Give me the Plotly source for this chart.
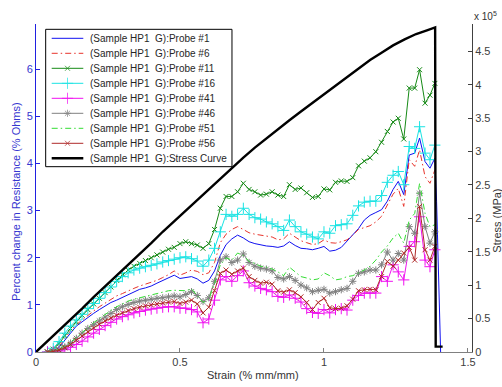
import plotly.graph_objects as go

# ---------------- data ----------------
strain = [0.04, 0.06, 0.08, 0.10, 0.12, 0.14, 0.16, 0.18, 0.20, 0.22,
          0.24, 0.26, 0.28, 0.30, 0.32, 0.34, 0.36, 0.38, 0.40, 0.42,
          0.44, 0.46, 0.48, 0.50, 0.52, 0.54, 0.56, 0.58, 0.60, 0.62,
          0.64, 0.66, 0.68, 0.70, 0.72, 0.74, 0.76, 0.78, 0.80, 0.82,
          0.84, 0.86, 0.88, 0.90, 0.92, 0.94, 0.96, 0.98, 1.00, 1.02,
          1.04, 1.06, 1.08, 1.10, 1.12, 1.14, 1.16, 1.18, 1.20, 1.22,
          1.24, 1.258, 1.277, 1.296, 1.315, 1.332, 1.351, 1.368, 1.385]

probe1 = [0.00, 0.03, 0.10, 0.25, 0.42, 0.55, 0.64, 0.74, 0.82, 0.90,
          0.98, 1.05, 1.10, 1.16, 1.22, 1.28, 1.33, 1.36, 1.40, 1.46,
          1.52, 1.58, 1.63, 1.56, 1.58, 1.60, 1.55, 1.46, 1.52, 1.72,
          2.05, 2.28, 2.40, 2.48, 2.42, 2.34, 2.30, 2.27, 2.25, 2.24,
          2.22, 2.25, 2.34, 2.26, 2.20, 2.19, 2.17, 2.20, 2.24, 2.14,
          2.16, 2.22, 2.35, 2.47, 2.62, 2.80, 2.90, 2.96, 3.02, 3.20,
          3.45, 3.62, 3.34, 4.18, 4.22, 4.54, 4.04, 3.90, 4.11]
probe1_tail_strain = [1.391, 1.405]
probe1_tail = [3.20, 0.00]

probe6 = [0.00, 0.04, 0.12, 0.28, 0.45, 0.58, 0.68, 0.78, 0.87, 0.96,
          1.04, 1.12, 1.19, 1.24, 1.30, 1.35, 1.40, 1.44, 1.47, 1.52,
          1.58, 1.64, 1.72, 1.63, 1.68, 1.74, 1.71, 1.64, 1.68, 1.90,
          2.32, 2.50, 2.60, 2.66, 2.60, 2.53, 2.50, 2.48, 2.47, 2.44,
          2.38, 2.40, 2.52, 2.44, 2.36, 2.32, 2.28, 2.30, 2.38, 2.32,
          2.31, 2.34, 2.38, 2.48, 2.60, 2.64, 2.68, 2.76, 2.88, 3.12,
          3.35, 3.47, 3.09, 4.08, 3.94, 4.29, 3.72, 3.58, 3.86]

probe11 = [0.00, 0.06, 0.18, 0.35, 0.50, 0.64, 0.78, 0.90, 1.02, 1.14,
           1.26, 1.38, 1.52, 1.64, 1.74, 1.82, 1.88, 1.94, 2.00, 2.06,
           2.12, 2.18, 2.22, 2.30, 2.34, 2.30, 2.27, 2.20, 2.30, 2.60,
           3.05, 3.30, 3.30, 3.40, 3.58, 3.45, 3.40, 3.33, 3.35, 3.40,
           3.33, 3.30, 3.55, 3.45, 3.48, 3.38, 3.28, 3.30, 3.46, 3.44,
           3.60, 3.63, 3.62, 3.70, 3.95, 4.05, 4.12, 4.25, 4.45, 4.68,
           4.88, 4.96, 4.52, 5.60, 5.60, 5.99, 5.28, 5.45, 5.70]

probe16 = [0.00, 0.08, 0.22, 0.40, 0.55, 0.68, 0.80, 0.92, 1.03, 1.14,
           1.26, 1.38, 1.50, 1.60, 1.68, 1.74, 1.78, 1.81, 1.84, 1.87,
           1.91, 1.94, 1.97, 2.00, 2.02, 1.98, 1.93, 1.82, 1.95, 2.20,
           2.55, 2.92, 2.88, 2.92, 3.05, 2.92, 2.85, 2.82, 2.76, 2.72,
           2.66, 2.58, 2.80, 2.66, 2.55, 2.50, 2.44, 2.40, 2.55, 2.52,
           2.68, 2.70, 2.72, 2.90, 3.10, 3.18, 3.20, 3.20, 3.32, 3.60,
           3.75, 3.83, 3.55, 4.36, 4.32, 4.78, 4.22, 4.08, 4.39]

probe41 = [0.00, 0.00, 0.02, 0.05, 0.10, 0.16, 0.23, 0.32, 0.40, 0.48,
           0.56, 0.63, 0.70, 0.75, 0.79, 0.83, 0.86, 0.89, 0.91, 0.93,
           0.95, 0.96, 0.96, 0.93, 0.93, 0.90, 0.85, 0.62, 0.70, 1.10,
           1.53, 1.60, 1.50, 1.62, 1.72, 1.47, 1.40, 1.35, 1.32, 1.28,
           1.18, 1.16, 1.21, 1.14, 1.06, 0.92, 0.84, 0.82, 0.90, 0.83,
           0.90, 0.92, 0.89, 1.10, 1.20, 1.25, 1.25, 1.25, 1.60, 1.50,
           1.85, 1.70, 1.53, 2.24, 2.34, 2.87, 1.95, 1.81, 2.17]

probe46 = [0.00, 0.02, 0.05, 0.11, 0.19, 0.29, 0.40, 0.50, 0.58, 0.66,
           0.74, 0.82, 0.90, 0.96, 1.01, 1.05, 1.08, 1.10, 1.12, 1.14,
           1.15, 1.17, 1.19, 1.17, 1.22, 1.28, 1.20, 1.07, 1.15, 1.50,
           1.95, 2.02, 1.90, 1.95, 2.08, 1.90, 1.82, 1.78, 1.76, 1.72,
           1.58, 1.55, 1.60, 1.52, 1.42, 1.36, 1.28, 1.31, 1.33, 1.25,
           1.28, 1.32, 1.35, 1.50, 1.67, 1.70, 1.74, 1.74, 1.85, 2.12,
           1.95, 2.09, 1.95, 2.66, 2.52, 3.37, 2.66, 2.31, 2.55]

probe51 = [0.00, 0.02, 0.06, 0.13, 0.21, 0.31, 0.42, 0.53, 0.62, 0.71,
           0.80, 0.88, 0.96, 1.02, 1.08, 1.12, 1.15, 1.18, 1.21, 1.24,
           1.27, 1.30, 1.31, 1.30, 1.30, 1.34, 1.20, 1.05, 1.12, 1.45,
           1.85, 2.00, 1.95, 2.10, 2.05, 1.92, 1.88, 1.82, 1.80, 1.76,
           1.70, 1.62, 1.80, 1.70, 1.60, 1.57, 1.53, 1.55, 1.68, 1.62,
           1.53, 1.55, 1.60, 1.62, 1.68, 1.74, 1.82, 1.95, 2.12, 2.25,
           2.42, 2.52, 2.31, 2.80, 2.94, 3.58, 2.94, 2.66, 2.70]

probe56 = [0.00, 0.01, 0.04, 0.09, 0.16, 0.25, 0.34, 0.43, 0.51, 0.59,
           0.66, 0.72, 0.78, 0.83, 0.88, 0.92, 0.95, 0.98, 1.00, 1.02,
           1.04, 1.06, 1.07, 1.03, 1.06, 1.10, 1.02, 0.83, 0.95, 1.30,
           1.67, 1.74, 1.65, 1.72, 1.78, 1.60, 1.52, 1.46, 1.48, 1.44,
           1.30, 1.27, 1.32, 1.26, 1.17, 1.05, 0.90, 1.05, 1.14, 0.94,
           0.92, 0.93, 0.98, 1.12, 1.30, 1.32, 1.33, 1.32, 1.60, 1.92,
           1.82, 1.95, 2.10, 2.22, 1.95, 3.09, 2.17, 1.95, 2.24]

stress_strain = [0.00, 0.04, 0.08, 0.12, 0.16, 0.20, 0.24, 0.28, 0.32, 0.36,
                 0.40, 0.44, 0.48, 0.52, 0.56, 0.60, 0.64, 0.68, 0.72, 0.76,
                 0.80, 0.84, 0.88, 0.92, 0.96, 1.00, 1.04, 1.08, 1.12, 1.16,
                 1.20, 1.24, 1.28, 1.32, 1.36, 1.38, 1.386, 1.388, 1.412]
stress_e5 = [0.00, 0.16, 0.33, 0.49, 0.65, 0.82, 0.98, 1.14, 1.31, 1.47,
             1.63, 1.80, 1.96, 2.12, 2.28, 2.44, 2.60, 2.76, 2.91, 3.06,
             3.20, 3.34, 3.47, 3.60, 3.73, 3.86, 3.99, 4.11, 4.24, 4.37,
             4.48, 4.59, 4.68, 4.76, 4.82, 4.85, 4.86, 0.08, 0.08]

x_tickvals = [0, 0.5, 1, 1.5]
x_ticktext = ["0", "0.5", "1", "1.5"]
y_tickvals = [0, 1, 2, 3, 4, 5, 6]
y2_tickvals_e5 = [0, 0.5, 1, 1.5, 2, 2.5, 3, 3.5, 4, 4.5]
y2_ticktext = ["0", "0.5", "1", "1.5", "2", "2.5", "3", "3.5", "4", "4.5"]

names = ["(Sample HP1\u00a0 G):Probe #1", "(Sample HP1\u00a0 G):Probe #6",
         "(Sample HP1\u00a0 G):Probe #11", "(Sample HP1\u00a0 G):Probe #16",
         "(Sample HP1\u00a0 G):Probe #41", "(Sample HP1\u00a0 G):Probe #46",
         "(Sample HP1\u00a0 G):Probe #51", "(Sample HP1\u00a0 G):Probe #56",
         "(Sample HP1\u00a0 G):Stress Curve"]

# ---------------- styles ----------------
FONT = "Liberation Sans, Arial, sans-serif"
DASHDOT = "6px,3px,1.5px,3px"
styles = [
    dict(color="#1010f0", dash="solid", width=1, symbol=None, msize=0),
    dict(color="#e8342c", dash=DASHDOT, width=1, symbol=None, msize=0),
    dict(color="#168a16", dash="solid", width=1, symbol="x-thin", msize=5),
    dict(color="#19e3e3", dash="solid", width=1, symbol="cross-thin", msize=8),
    dict(color="#f010f0", dash="solid", width=1, symbol="cross-thin", msize=8),
    dict(color="#808080", dash="solid", width=1, symbol="asterisk", msize=6),
    dict(color="#33dd33", dash=DASHDOT, width=1, symbol=None, msize=0),
    dict(color="#b02a2a", dash="solid", width=1, symbol="x-thin", msize=5),
    dict(color="#000000", dash="solid", width=2.4, symbol=None, msize=0),
]

series_x = [strain + probe1_tail_strain, strain, strain, strain, strain,
            strain, strain, strain]
series_y = [probe1 + probe1_tail, probe6, probe11, probe16, probe41,
            probe46, probe51, probe56]

fig = go.Figure()

for i in range(8):
    st = styles[i]
    kw = dict(mode="lines")
    if st["symbol"]:
        kw = dict(mode="lines+markers",
                  marker=dict(symbol=st["symbol"], size=st["msize"],
                              color=st["color"],
                              line=dict(width=1, color=st["color"])))
    fig.add_trace(go.Scatter(x=series_x[i], y=series_y[i], name=names[i],
                             line=dict(color=st["color"], width=st["width"],
                                       dash=st["dash"]),
                             showlegend=False, hoverinfo="skip", **kw))

fig.add_trace(go.Scatter(x=stress_strain, y=[s * 1e5 for s in stress_e5],
                         name=names[8], mode="lines", yaxis="y2",
                         line=dict(color="#000000", width=2.4),
                         showlegend=False, hoverinfo="skip"))

# ---------------- hand-made legend box (MATLAB style, compact rows) ----------------
LX0, LX1, LY_TOP, LY_BOT = 0.0222, 0.4495, 0.9838, 0.565
ROW0, ROW_STEP = 0.9564, 0.04573
SAMPLE_X0, SAMPLE_X1, TEXT_X = 0.036, 0.1085, 0.1186

shapes = [dict(type="rect", xref="paper", yref="paper", x0=LX0, x1=LX1,
               y0=LY_BOT, y1=LY_TOP, line=dict(color="#000000", width=1),
               fillcolor="white", layer="below")]
annotations = []
for i, st in enumerate(styles):
    ry = ROW0 - i * ROW_STEP
    mid = (SAMPLE_X0 + SAMPLE_X1) / 2
    sizes = [0, st["msize"], 0]
    fig.add_trace(go.Scatter(
        x=[SAMPLE_X0, mid, SAMPLE_X1], y=[ry, ry, ry],
        xaxis="x3", yaxis="y3", showlegend=False, hoverinfo="skip",
        mode="lines+markers" if st["symbol"] else "lines",
        line=dict(color=st["color"], width=st["width"], dash=st["dash"]),
        marker=dict(symbol=st["symbol"] or "circle", size=sizes,
                    color=st["color"], line=dict(width=1, color=st["color"]))))
    annotations.append(dict(x=TEXT_X, y=ry, xref="paper", yref="paper",
                            text=names[i], showarrow=False, xanchor="left",
                            yanchor="middle",
                            font=dict(family=FONT, size=10, color="#262626")))

# axis titles & exponent label
annotations += [
    dict(x=-0.046, y=0.46, xref="paper", yref="paper", textangle=-90,
         xanchor="center", yanchor="middle",
         text="Percent change in Resistance (% Ohms)", showarrow=False,
         font=dict(family=FONT, size=11, color="#3535d0")),
    dict(x=1.057, y=0.40, xref="paper", yref="paper", textangle=-90,
         xanchor="center", yanchor="middle",
         text="Stress (MPa)", showarrow=False,
         font=dict(family=FONT, size=11, color="#333333")),
    dict(x=0.4966, y=-0.070, xref="paper", yref="paper",
         xanchor="center", yanchor="middle",
         text="Strain (% mm/mm)", showarrow=False,
         font=dict(family=FONT, size=11, color="#333333")),
    dict(x=1.0, y=1.024, xref="paper", yref="paper", xanchor="left",
         yanchor="middle",
         text="x 10<sup>5</sup>", showarrow=False,
         font=dict(family=FONT, size=10, color="#333333")),
]

fig.update_layout(
    width=502, height=387,
    margin=dict(l=36, r=30, t=24, b=35),
    paper_bgcolor="white", plot_bgcolor="white",
    font=dict(family=FONT, size=11, color="#333333"),
    showlegend=False,
    xaxis=dict(range=[0, 1.514], tickvals=x_tickvals, ticktext=x_ticktext,
               ticks="inside", ticklen=4, tickcolor="#808080",
               showline=True, linecolor="#808080", linewidth=1,
               showgrid=False, zeroline=False,
               tickfont=dict(family=FONT, size=11, color="#404040")),
    yaxis=dict(range=[0, 6.96], tickvals=y_tickvals,
               ticks="inside", ticklen=4, tickcolor="#2020e0",
               showline=True, linecolor="#2020e0", linewidth=1,
               showgrid=False, zeroline=False,
               tickfont=dict(family=FONT, size=11, color="#3535d0")),
    yaxis2=dict(range=[0, 4.91e5], overlaying="y", side="right",
                tickvals=[v * 1e5 for v in y2_tickvals_e5],
                ticktext=y2_ticktext,
                ticks="inside", ticklen=4, tickcolor="#404040",
                showline=True, linecolor="#404040", linewidth=1,
                showgrid=False, zeroline=False,
                tickfont=dict(family=FONT, size=11, color="#404040")),
    xaxis3=dict(overlaying="x", range=[0, 1], visible=False, anchor="y3"),
    yaxis3=dict(overlaying="y", range=[0, 1], visible=False, anchor="x3"),
    shapes=shapes,
    annotations=annotations,
)

fig.write_html("out.html")
